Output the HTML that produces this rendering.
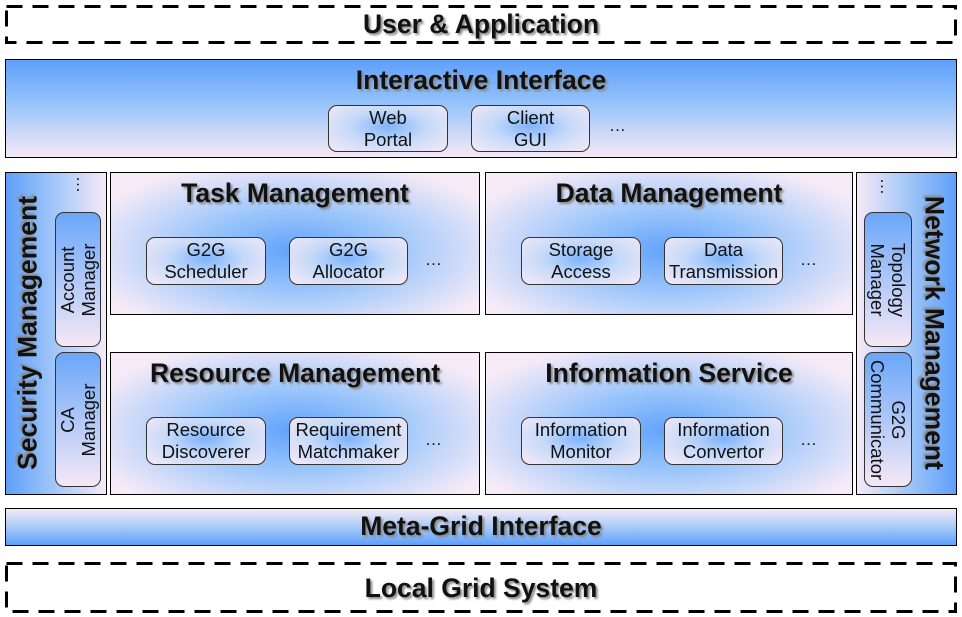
<!DOCTYPE html>
<html><head><style>
*{margin:0;padding:0;box-sizing:border-box}
body{width:962px;height:617px;background:#fff;position:relative;overflow:hidden;font-family:"Liberation Sans",Arial,sans-serif}
.a{position:absolute}
.t{position:absolute;font-weight:bold;font-size:26.5px;color:#111;text-shadow:2px 2px 2px #888;white-space:nowrap;text-align:center;left:0;right:0}
.box{position:absolute;border:1px solid #000}
.rad{background:radial-gradient(ellipse 60% 65% at 50% 55%,#62a2fb 0%,#9cc6fb 45%,#f7ebf7 100%)}
.in{position:absolute;border:1px solid #333;border-radius:9px;font-size:18.5px;line-height:22px;text-align:center;color:#111;background:radial-gradient(ellipse at 50% 45%,#7eb3fb 0%,#c4d9f9 45%,#f7eaf7 100%)}
.dots{position:absolute;font-size:17px;color:#111}
.v{position:absolute;border:1px solid #333;border-radius:9px;font-size:18.5px;line-height:21px;color:#111;background:linear-gradient(180deg,#6aa6fa,#f5e8f5)}
.v span{position:absolute;left:50%;top:50%;white-space:nowrap;text-align:center}
</style></head><body>
<svg class="a" style="left:0;top:0" width="962" height="617">
<rect x="6.5" y="6.5" width="949" height="36" fill="none" stroke="#000" stroke-width="3" stroke-dasharray="16 10"/>
<rect x="6.5" y="563.5" width="949" height="48" fill="none" stroke="#000" stroke-width="3" stroke-dasharray="16 10"/>
</svg>
<div class="t" style="top:9px;">User &amp; Application</div>

<div class="box" style="left:5px;top:59px;width:952px;height:99px;background:linear-gradient(180deg,#5f9ffa 0%,#8fc0fb 40%,#f6e9f6 100%)"></div>
<div class="t" style="top:65px;">Interactive Interface</div>
<div class="in" style="left:328px;top:105px;width:120px;height:47px;padding-top:1px">Web<br>Portal</div>
<div class="in" style="left:471px;top:105px;width:119px;height:47px;padding-top:1px">Client<br>GUI</div>
<div class="dots" style="left:609px;top:116px">…</div>

<div class="box" style="left:5px;top:172px;width:102px;height:323px;background:linear-gradient(90deg,#5f9ffa 0%,#a4c8f8 50%,#f6e9f6 100%)"></div>
<div class="a" style="left:28px;top:333px;transform:translate(-50%,-50%) rotate(-90deg);font-weight:bold;font-size:26.5px;white-space:nowrap;color:#111;text-shadow:2px -2px 2px #888">Security Management</div>
<div class="dots" style="left:72px;top:176px;writing-mode:vertical-rl">…</div>
<div class="v" style="left:55px;top:212px;width:46px;height:135px"><span style="transform:translate(-50%,-50%) rotate(-90deg)">Account<br>Manager</span></div>
<div class="v" style="left:55px;top:352px;width:46px;height:135px"><span style="transform:translate(-50%,-50%) rotate(-90deg)">CA<br>Manager</span></div>

<div class="box" style="left:856px;top:172px;width:101px;height:323px;background:linear-gradient(270deg,#5f9ffa 0%,#a4c8f8 50%,#f6e9f6 100%)"></div>
<div class="a" style="left:934px;top:333px;transform:translate(-50%,-50%) rotate(90deg);font-weight:bold;font-size:26.5px;white-space:nowrap;color:#111;text-shadow:-2px 2px 2px #888">Network Management</div>
<div class="dots" style="left:876px;top:178px;writing-mode:vertical-rl">…</div>
<div class="v" style="left:864px;top:212px;width:48px;height:135px"><span style="transform:translate(-50%,-50%) rotate(90deg)">Topology<br>Manager</span></div>
<div class="v" style="left:864px;top:352px;width:48px;height:135px"><span style="transform:translate(-50%,-50%) rotate(90deg)">G2G<br>Communicator</span></div>

<div class="box rad" style="left:110px;top:172px;width:370px;height:143px"><div class="t" style="top:5px">Task Management</div></div>
<div class="in" style="left:146px;top:237px;width:120px;height:48px;padding-top:1px">G2G<br>Scheduler</div>
<div class="in" style="left:289px;top:237px;width:119px;height:48px;padding-top:1px">G2G<br>Allocator</div>
<div class="dots" style="left:425px;top:250px">…</div>

<div class="box rad" style="left:485px;top:172px;width:368px;height:143px"><div class="t" style="top:5px">Data Management</div></div>
<div class="in" style="left:521px;top:237px;width:120px;height:48px;padding-top:1px">Storage<br>Access</div>
<div class="in" style="left:664px;top:237px;width:119px;height:48px;padding-top:1px">Data<br>Transmission</div>
<div class="dots" style="left:800px;top:250px">…</div>

<div class="box rad" style="left:110px;top:352px;width:370px;height:143px"><div class="t" style="top:5px">Resource Management</div></div>
<div class="in" style="left:146px;top:417px;width:120px;height:48px;padding-top:1px">Resource<br>Discoverer</div>
<div class="in" style="left:289px;top:417px;width:119px;height:48px;padding-top:1px">Requirement<br>Matchmaker</div>
<div class="dots" style="left:425px;top:430px">…</div>

<div class="box rad" style="left:485px;top:352px;width:368px;height:143px"><div class="t" style="top:5px">Information Service</div></div>
<div class="in" style="left:521px;top:417px;width:120px;height:48px;padding-top:1px">Information<br>Monitor</div>
<div class="in" style="left:664px;top:417px;width:119px;height:48px;padding-top:1px">Information<br>Convertor</div>
<div class="dots" style="left:800px;top:430px">…</div>

<div class="box" style="left:5px;top:508px;width:952px;height:38px;background:linear-gradient(180deg,#f6e9f6 0%,#a8cbf8 50%,#5f9ffa 100%)"></div>
<div class="t" style="top:511px;">Meta-Grid Interface</div>

<div class="t" style="top:573px;">Local Grid System</div>
</body></html>
